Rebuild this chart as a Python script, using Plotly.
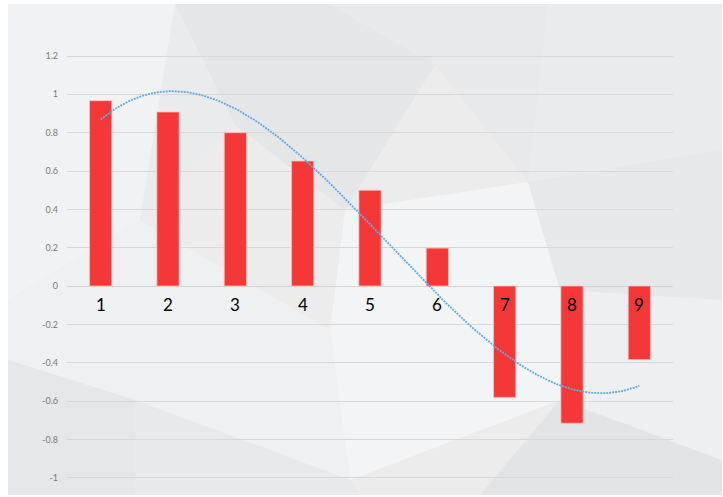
import numpy as np
import plotly.graph_objects as go

categories = [1, 2, 3, 4, 5, 6, 7, 8, 9]
values = [0.967, 0.908, 0.800, 0.652, 0.500, 0.198, -0.581, -0.716, -0.384]
tick_vals = [-1, -0.8, -0.6, -0.4, -0.2, 0, 0.2, 0.4, 0.6, 0.8, 1, 1.2]
tick_text = ["-1", "-0.8", "-0.6", "-0.4", "-0.2", "0", "0.2", "0.4", "0.6", "0.8", "1", "1.2"]

# polynomial (order 3) trendline fitted to the bar values
coef = np.polyfit(categories, values, 3)
tx = np.linspace(1, 9, 200)
ty = np.polyval(coef, tx)

W, H = 723, 497
ML, MR, MT, MB = 67, 50, 4, 2
PW, PH = W - ML - MR, H - MT - MB

def px(x, y):
    return (x - ML) / PW, 1 - (y - MT) / PH

def poly(pts, color):
    d = ""
    for i, (x, y) in enumerate(pts):
        X, Y = px(x, y)
        d += ("M" if i == 0 else "L") + f"{X:.4f},{Y:.4f} "
    d += "Z"
    return dict(type="path", xref="paper", yref="paper", path=d,
                fillcolor=color, line=dict(width=0), layer="below")

shapes = [
    poly([(8, 4), (722, 4), (722, 495), (8, 495)], "#ececed"),
    poly([(8, 4), (175, 4), (140, 220), (8, 300)], "#f1f2f3"),
    poly([(175, 4), (330, 4), (435, 65), (345, 210), (235, 125)], "#e5e6e7"),
    poly([(175, 4), (235, 125), (140, 220)], "#eaebec"),
    poly([(330, 4), (548, 4), (528, 182), (435, 65)], "#e8e9ea"),
    poly([(345, 210), (528, 182), (560, 290), (560, 400), (350, 480), (330, 330)], "#f3f4f5"),
    poly([(548, 4), (722, 4), (722, 150), (528, 182)], "#eaebec"),
    poly([(528, 182), (722, 150), (722, 300), (560, 290)], "#e7e8e9"),
    poly([(560, 290), (722, 300), (722, 460), (560, 400)], "#eeeff0"),
    poly([(8, 300), (140, 220), (330, 330), (350, 480), (135, 400), (8, 360)], "#eff0f1"),
    poly([(8, 360), (135, 400), (135, 495), (8, 495)], "#e6e7e8"),
    poly([(135, 400), (350, 480), (360, 495), (135, 495)], "#e8e9ea"),
    poly([(560, 400), (722, 460), (722, 495), (480, 495)], "#e3e4e5"),
]

fig = go.Figure()
fig.add_trace(go.Bar(
    x=categories, y=values,
    marker=dict(color="#f43838", line=dict(color="rgba(255,190,190,0.8)", width=1)),
    width=0.33, showlegend=False, hoverinfo="skip"))
fig.add_trace(go.Scatter(
    x=tx, y=ty, mode="lines",
    line=dict(color="#62aaea", width=1.8, dash="2px,1px"),
    showlegend=False, hoverinfo="skip"))

annotations = [dict(x=c, y=0, xref="x", yref="y", text=str(c), showarrow=False,
                    yanchor="top", yshift=-6,
                    font=dict(family="Lato", size=17, color="#000000"))
               for c in categories]

fig.update_layout(
    width=W, height=H,
    margin=dict(l=ML, r=MR, t=MT, b=MB),
    paper_bgcolor="white", plot_bgcolor="rgba(0,0,0,0)",
    shapes=shapes, annotations=annotations,
    xaxis=dict(range=[0.5, 9.5], showticklabels=False, showgrid=False,
               zeroline=False, showline=False, ticks=""),
    yaxis=dict(range=[-1.0902, 1.4713], tickvals=tick_vals, ticktext=tick_text,
               showgrid=True, gridcolor="#d8d8d8", gridwidth=1,
               zeroline=True, zerolinecolor="#d4d4d4", zerolinewidth=1,
               showline=False, ticks="", ticklabelstandoff=8,
               tickfont=dict(family="Lato", size=9, color="#7a7a7a")),
    bargap=0.67,
)

fig.write_html("out.html")
